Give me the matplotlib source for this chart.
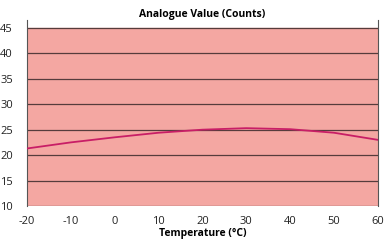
import matplotlib
matplotlib.use('Agg')
import matplotlib.pyplot as plt
import numpy as np

plt.rcParams['font.family'] = ['Open Sans', 'DejaVu Sans']
plt.rcParams['axes.unicode_minus'] = False

temps = [-20, -10, 0, 10, 20, 30, 40, 50, 60]
counts = [21.3, 22.5, 23.5, 24.4, 25.0, 25.3, 25.1, 24.4, 23.0]
yticks = [10, 15, 20, 25, 30, 35, 40, 45]
xticks = [-20, -10, 0, 10, 20, 30, 40, 50, 60]

fig = plt.figure(figsize=(3.84, 2.4), dpi=100)
ax = fig.add_axes([0.070, 0.142, 0.914, 0.775])

ax.axhspan(10, 45, color='#f4a7a2', zorder=0)
for y in yticks:
    ax.axhline(y, color='#3a2a2a', lw=0.9, zorder=1, alpha=0.85)

ax.plot(temps, counts, color='#c81e66', lw=1.3, zorder=3)

ax.set_xlim(-20, 60)
ax.set_ylim(10, 46.6)
ax.set_xticks(xticks)
ax.set_yticks(yticks)
ax.tick_params(length=0, labelsize=8, colors='#222222')
ax.tick_params(axis='x', pad=7)
ax.tick_params(axis='y', pad=10)

ax.spines['top'].set_visible(False)
ax.spines['bottom'].set_visible(False)
ax.spines['left'].set_color('#555555')
ax.spines['right'].set_color('#555555')
ax.spines['left'].set_linewidth(0.8)
ax.spines['right'].set_linewidth(0.8)

ax.set_title('Analogue Value (Counts)', fontsize=7.5, fontweight='bold', pad=-1)
ax.set_xlabel('Temperature (°C)', fontsize=7.5, fontweight='bold', labelpad=1)

fig.savefig('out.png', dpi=100)
